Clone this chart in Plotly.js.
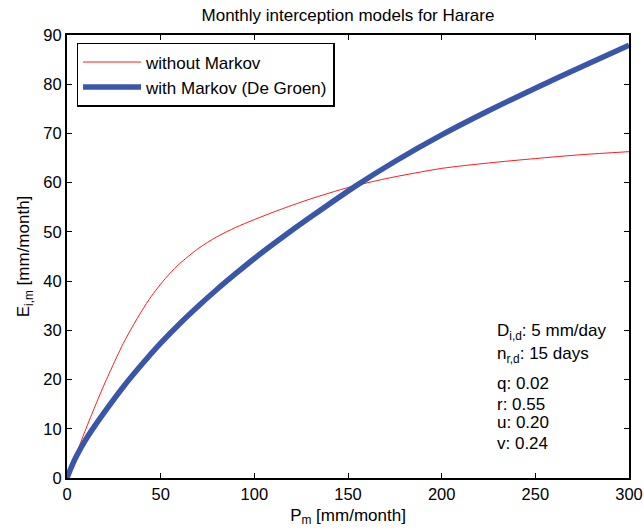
<!DOCTYPE html>
<html>
<head>
<meta charset="utf-8">
<script src="https://cdn.plot.ly/plotly-3.0.1.min.js"></script>
<style>html,body{margin:0;padding:0;background:#fff;}#chart{width:644px;height:531px;}</style>
</head>
<body>
<div id="chart"></div>
<script>
// Precipitation P_m [mm/month] and interception E_i,m [mm/month]
const xWithout = [0, 3, 6, 10, 15, 20, 25, 30, 35, 40, 45, 50, 55, 60, 70, 80, 90, 100, 115, 130, 150, 170, 200, 225, 250, 275, 300];
const yWithout = [0, 2.9, 5.9, 9.9, 14.6, 19.1, 23.3, 27.3, 30.8, 34.0, 36.9, 39.4, 41.6, 43.5, 46.6, 49.0, 50.9, 52.5, 54.7, 56.7, 59.0, 60.8, 62.9, 64.0, 64.9, 65.7, 66.3];

const xWith = [0, 2, 5, 10, 15, 20, 30, 40, 50, 60, 70, 80, 90, 100, 115, 130, 154, 175, 200, 225, 250, 275, 300];
const yWith = [0, 1.9, 4.4, 7.8, 10.7, 13.4, 18.5, 23.1, 27.4, 31.3, 34.9, 38.3, 41.5, 44.6, 48.9, 53.0, 59.3, 64.3, 69.7, 74.6, 79.2, 83.6, 87.9];

const seriesNames = ["without Markov", "with Markov (De Groen)"];
const paramLabels = [
  "D<sub>i,d</sub>: 5 mm/day",
  "n<sub>r,d</sub>: 15 days",
  "q: 0.02",
  "r: 0.55",
  "u: 0.20",
  "v: 0.24"
];
const xTicks = [0, 50, 100, 150, 200, 250, 300];
const yTicks = [0, 10, 20, 30, 40, 50, 60, 70, 80, 90];

const FONT = "Liberation Sans, Arial, Helvetica, sans-serif";
const FS = 17;

const traces = [
  {x: xWithout, y: yWithout, name: seriesNames[0], mode: "lines",
   line: {color: "#ff1a1a", width: 1, shape: "spline", smoothing: 0.7}},
  {x: xWith, y: yWith, name: seriesNames[1], mode: "lines",
   line: {color: "#3a56a8", width: 5.5, shape: "spline", smoothing: 0.7}}
];

const annY = [0.330, 0.278, 0.2144, 0.1670, 0.1242, 0.0790];
const annotations = paramLabels.map((t, i) => ({
  text: t, xref: "paper", yref: "paper", x: 0.761, y: annY[i],
  xanchor: "left", yanchor: "middle", showarrow: false,
  font: {family: FONT, size: FS, color: "#000"}
}));

const axisCommon = {
  showline: true, linecolor: "#000", linewidth: 2, mirror: "ticks",
  ticks: "inside", ticklen: 5, tickwidth: 1, tickcolor: "#000",
  showgrid: false, zeroline: false,
  tickfont: {family: FONT, size: 16.5, color: "#000"}
};

const layout = {
  width: 644, height: 531,
  margin: {l: 67, r: 15, t: 35, b: 53},
  paper_bgcolor: "#fff", plot_bgcolor: "#fff",
  font: {family: FONT, size: FS, color: "#000"},
  title: {text: "Monthly interception models for Harare", x: 0.5, xref: "paper", xanchor: "center",
          y: 0.972, yref: "container", yanchor: "middle",
          font: {family: FONT, size: FS, color: "#000"}},
  xaxis: Object.assign({}, axisCommon, {
    range: [0, 300], tickvals: xTicks, ticktext: xTicks.map(String),
    title: {text: "P<sub>m</sub> [mm/month]", standoff: 7, font: {family: FONT, size: FS, color: "#000"}}
  }),
  yaxis: Object.assign({}, axisCommon, {
    range: [0, 90], tickvals: yTicks, ticktext: yTicks.map(String),
    title: {text: "E<sub>i,m</sub> [mm/month]", standoff: 9, font: {family: FONT, size: FS, color: "#000"}}
  }),
  showlegend: true,
  legend: {
    x: 0.017, y: 0.982, xanchor: "left", yanchor: "top",
    bgcolor: "#fff", bordercolor: "#000", borderwidth: 1.5,
    font: {family: FONT, size: FS, color: "#000"},
    itemwidth: 58, tracegroupgap: 0,
    entrywidth: 228, entrywidthmode: "pixels"
  },
  annotations: annotations
};

Plotly.newPlot("chart", traces, layout, {displayModeBar: false, staticPlot: true});
</script>
</body>
</html>
